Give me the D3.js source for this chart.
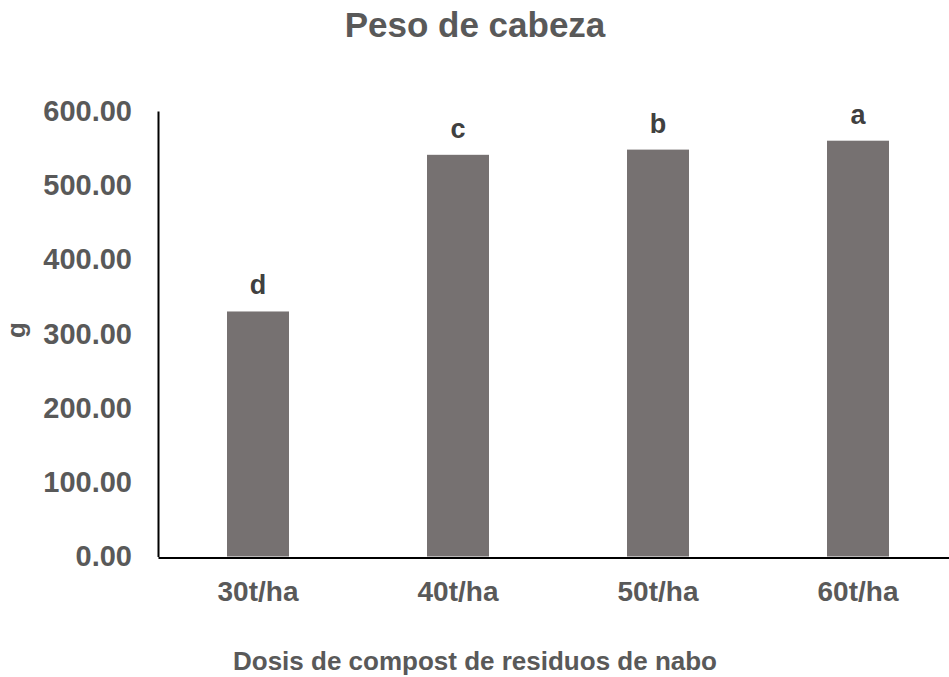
<!DOCTYPE html>
<html>
<head>
<meta charset="utf-8">
<script src="https://cdn.jsdelivr.net/npm/d3@7"></script>
<style>
  html, body { margin: 0; padding: 0; background: #fff; }
  svg { display: block; font-family: "Liberation Sans", Arial, sans-serif; font-weight: bold; }
</style>
</head>
<body>
<svg id="chart" width="949" height="677"></svg>
<script>
// Head weight by compost dose
const categories = ["30t/ha", "40t/ha", "50t/ha", "60t/ha"];
const values = [330, 541, 548, 560];
const letters = ["d", "c", "b", "a"];
const yTicks = [0, 100, 200, 300, 400, 500, 600];

const svg = d3.select("#chart");
const margin = { left: 158, right: -9, top: 111, bottom: 120 };
const W = 949, H = 677;

const x = d3.scaleBand()
  .domain(categories)
  .range([margin.left, W - margin.right])
  .paddingInner(0.69)
  .paddingOuter(0.345);

const y = d3.scaleLinear()
  .domain([0, 600])
  .range([H - margin.bottom - 0.5, margin.top]);

// bars
svg.append("g").selectAll("rect")
  .data(values)
  .join("rect")
  .attr("x", (d, i) => x(categories[i]))
  .attr("y", d => y(d))
  .attr("width", x.bandwidth())
  .attr("height", d => y(0) - y(d))
  .attr("fill", "#767171");

// significance letters
svg.append("g").selectAll("text")
  .data(values)
  .join("text")
  .attr("x", (d, i) => x(categories[i]) + x.bandwidth() / 2)
  .attr("y", d => y(d) - 17)
  .attr("text-anchor", "middle")
  .attr("font-size", 27)
  .attr("fill", "#404040")
  .text((d, i) => letters[i]);

// y axis
const yAxis = svg.append("g")
  .attr("transform", `translate(${margin.left},0)`)
  .call(d3.axisLeft(y).tickValues(yTicks).tickSize(0).tickPadding(26).tickFormat(d3.format(".2f")));
yAxis.select(".domain").attr("stroke", "#000").attr("stroke-width", 2);
yAxis.selectAll("text")
  .attr("font-size", 29)
  .attr("font-family", "Liberation Sans, Arial, sans-serif")
  .attr("font-weight", "bold")
  .attr("fill", "#595959");

// x axis
const xAxis = svg.append("g")
  .attr("transform", `translate(0,${y(0) + 1})`)
  .call(d3.axisBottom(x).tickSize(0).tickPadding(24));
xAxis.select(".domain").attr("stroke", "#000").attr("stroke-width", 2);
xAxis.selectAll("text")
  .attr("font-size", 28)
  .attr("font-family", "Liberation Sans, Arial, sans-serif")
  .attr("font-weight", "bold")
  .attr("fill", "#595959");

// title
svg.append("text")
  .attr("x", 475)
  .attr("y", 37)
  .attr("text-anchor", "middle")
  .attr("font-size", 35)
  .attr("fill", "#595959")
  .text("Peso de cabeza");

// x axis title
svg.append("text")
  .attr("x", 475)
  .attr("y", 670)
  .attr("text-anchor", "middle")
  .attr("font-size", 26)
  .attr("fill", "#595959")
  .text("Dosis de compost de residuos de nabo");

// y axis title
svg.append("text")
  .attr("transform", "translate(25,330) rotate(-90)")
  .attr("text-anchor", "middle")
  .attr("font-size", 26)
  .attr("fill", "#595959")
  .text("g");
</script>
</body>
</html>
